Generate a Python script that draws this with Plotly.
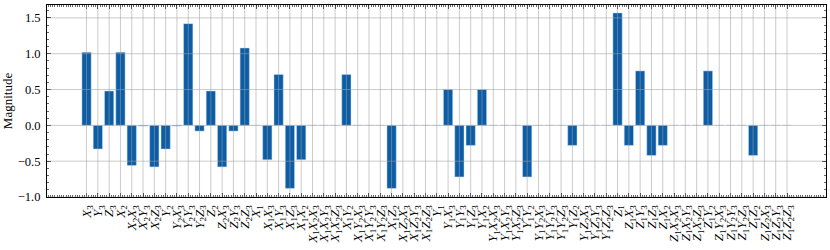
import plotly.graph_objects as go

# Pauli-string labels (qubit 1, 2, 3)
categories = [
    "X3", "Y3", "Z3",
    "X2", "X2X3", "X2Y3", "X2Z3",
    "Y2", "Y2X3", "Y2Y3", "Y2Z3",
    "Z2", "Z2X3", "Z2Y3", "Z2Z3",
    "X1", "X1X3", "X1Y3", "X1Z3",
    "X1X2", "X1X2X3", "X1X2Y3", "X1X2Z3",
    "X1Y2", "X1Y2X3", "X1Y2Y3", "X1Y2Z3",
    "X1Z2", "X1Z2X3", "X1Z2Y3", "X1Z2Z3",
    "Y1", "Y1X3", "Y1Y3", "Y1Z3",
    "Y1X2", "Y1X2X3", "Y1X2Y3", "Y1X2Z3",
    "Y1Y2", "Y1Y2X3", "Y1Y2Y3", "Y1Y2Z3",
    "Y1Z2", "Y1Z2X3", "Y1Z2Y3", "Y1Z2Z3",
    "Z1", "Z1X3", "Z1Y3", "Z1Z3",
    "Z1X2", "Z1X2X3", "Z1X2Y3", "Z1X2Z3",
    "Z1Y2", "Z1Y2X3", "Z1Y2Y3", "Z1Y2Z3",
    "Z1Z2", "Z1Z2X3", "Z1Z2Y3", "Z1Z2Z3",
]

magnitudes = [
    1.02, -0.33, 0.48,
    1.02, -0.56, -0.01, -0.58,
    -0.33, -0.01, 1.42, -0.08,
    0.48, -0.58, -0.08, 1.08,
    0.0, -0.48, 0.71, -0.88,
    -0.48, 0.0, 0.0, 0.0,
    0.71, 0.0, 0.0, 0.0,
    -0.88, 0.0, 0.0, 0.0,
    0.0, 0.50, -0.72, -0.28,
    0.50, 0.0, 0.0, 0.0,
    -0.72, 0.0, 0.0, 0.0,
    -0.28, 0.0, 0.0, 0.0,
    1.57, -0.28, 0.76, -0.42,
    -0.28, 0.0, 0.0, 0.0,
    0.76, 0.0, 0.0, 0.0,
    -0.42, 0.0, 0.0, 0.0,
]

y_ticks = [-1.0, -0.5, 0.0, 0.5, 1.0, 1.5]


def to_html(label):
    out = ""
    for ch in label:
        if ch.isalpha():
            out += "<i>" + ch + "</i>"
        else:
            out += "<sub>" + ch + "</sub>"
    return out


tick_text = [to_html(c) for c in categories]
xpos = list(range(len(categories)))

FONT = "Liberation Serif"
BAR = "#0C5DA5"
GRID = "rgba(160,160,160,0.55)"

fig = go.Figure()
fig.add_trace(go.Bar(
    x=xpos, y=magnitudes, width=0.82,
    marker=dict(color=BAR, line=dict(color="rgba(200,220,240,0.6)", width=0.8)),
    hoverinfo="skip",
))

# grid drawn above the bars (as in the reference)
shapes = []
for xv in xpos:
    shapes.append(dict(type="line", xref="x", yref="paper", x0=xv, x1=xv, y0=0, y1=1,
                       line=dict(color=GRID, width=1), layer="above"))
for yv in y_ticks:
    shapes.append(dict(type="line", xref="paper", yref="y", x0=0, x1=1, y0=yv, y1=yv,
                       line=dict(color=GRID, width=1), layer="above"))

fig.update_layout(
    width=830, height=250,
    margin=dict(l=47, r=4, t=5, b=53, autoexpand=False),
    paper_bgcolor="white", plot_bgcolor="white",
    showlegend=False, bargap=0,
    font=dict(family=FONT, size=12, color="black"),
    shapes=shapes,
)

fig.update_xaxes(
    range=[-3.5, len(categories) - 1 + 3.45],
    tickmode="array", tickvals=xpos, ticktext=tick_text, tickangle=-90,
    ticks="inside", ticklen=4, tickwidth=0.8, tickcolor="black",
    minor=dict(dtick=0.2, tick0=0, ticks="inside", ticklen=2, tickwidth=0.6, tickcolor="black", showgrid=False),
    showline=True, linecolor="black", linewidth=1, mirror="allticks",
    showgrid=False, zeroline=False, automargin=False,
    tickfont=dict(family=FONT, size=13),
    ticklabelstandoff=2,
)
fig.update_yaxes(
    range=[-1.0, 1.68],
    tickmode="array", tickvals=y_ticks, tickformat=".1f",
    ticks="inside", ticklen=4, tickwidth=0.8, tickcolor="black",
    minor=dict(dtick=0.1, tick0=0, ticks="inside", ticklen=2, tickwidth=0.6, tickcolor="black", showgrid=False),
    showline=True, linecolor="black", linewidth=1, mirror="allticks",
    showgrid=False, zeroline=False, automargin=False,
    title=dict(text="Magnitude", font=dict(family=FONT, size=13), standoff=6),
    tickfont=dict(family=FONT, size=12.5),
    ticklabelstandoff=3,
)

fig.write_html("out.html", config={"displayModeBar": False, "staticPlot": True},
               post_script="document.body.style.margin='0';document.body.style.padding='0';")
